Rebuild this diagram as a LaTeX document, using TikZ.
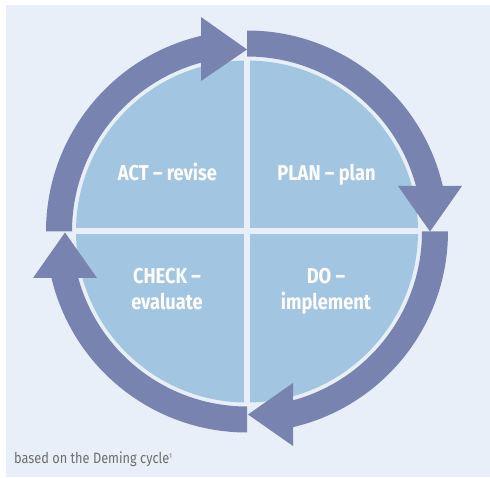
\documentclass[tikz,border=0pt]{standalone}
\usepackage{fontspec}
\setmainfont{Fira Sans}[FakeStretch=0.85]
\definecolor{bg}{HTML}{E8EFF9}
\definecolor{ringc}{HTML}{7884AF}
\definecolor{discc}{HTML}{A2C5E1}
\definecolor{footc}{HTML}{6E6E6E}
\tikzset{
  lbl/.style={text=white, font=\bfseries\fontsize{21.5}{26}\selectfont, inner sep=0, anchor=base},
  ringpart/.style={fill=ringc},
}
\begin{document}
\begin{tikzpicture}[x=1pt,y=1pt]
\useasboundingbox (0,0) rectangle (490,477);
\fill[white] (0,0) rectangle (490,477);
\fill[bg] (6,0) rectangle (490,472);
\begin{scope}[shift={(247,245.5)}]
  \coordinate (c) at (0,0);
  \fill[discc] (c) circle (171);
  \draw[bg, line width=6] (-173,0) -- (173,0) (0,-173) -- (0,173);
  % ACT -> PLAN
  \fill[ringpart] (180:201) arc[start angle=180,end angle=103.23,radius=201] -- (105.24:175) arc[start angle=105.24,end angle=180,radius=175] -- cycle;
  \fill[ringpart] (-46,150.5) -- (0,182) -- (-46,214.5) -- cycle;
  % PLAN -> DO
  \fill[ringpart] (90:201) arc[start angle=90,end angle=13.08,radius=201] -- (15.07:175) arc[start angle=15.07,end angle=90,radius=175] -- cycle;
  \fill[ringpart] (151,45.5) -- (183,0) -- (215,45.5) -- cycle;
  % DO -> CHECK
  \fill[ringpart] (0:201) arc[start angle=0,end angle=-76.77,radius=201] -- (-74.76:175) arc[start angle=-74.76,end angle=0,radius=175] -- cycle;
  \fill[ringpart] (46,-151.5) -- (1,-183) -- (46,-214.5) -- cycle;
  % CHECK -> ACT
  \fill[ringpart] (-90:201) arc[start angle=-90,end angle=-166.62,radius=201] -- (-164.58:175) arc[start angle=-164.58,end angle=-90,radius=175] -- cycle;
  \fill[ringpart] (-214,-46.5) -- (-182,-1) -- (-150,-46.5) -- cycle;
\end{scope}
\node[lbl] (act) at (167.5,296) {ACT – revise};
\node[lbl] (plan) at (326.5,296) {PLAN – plan};
\node[lbl] (check1) at (167,193) {CHECK –};
\node[lbl] (check2) at (167,167) {evaluate};
\node[lbl] (do1) at (326,193) {DO –};
\node[lbl] (do2) at (326,167) {implement};
\node[anchor=base west, inner sep=0, text=footc, font=\fontsize{15}{18}\selectfont] (src) at (14,14) {based on the Deming cycle\raisebox{5pt}{\fontsize{7}{8}\selectfont 1}};
\end{tikzpicture}
\end{document}
